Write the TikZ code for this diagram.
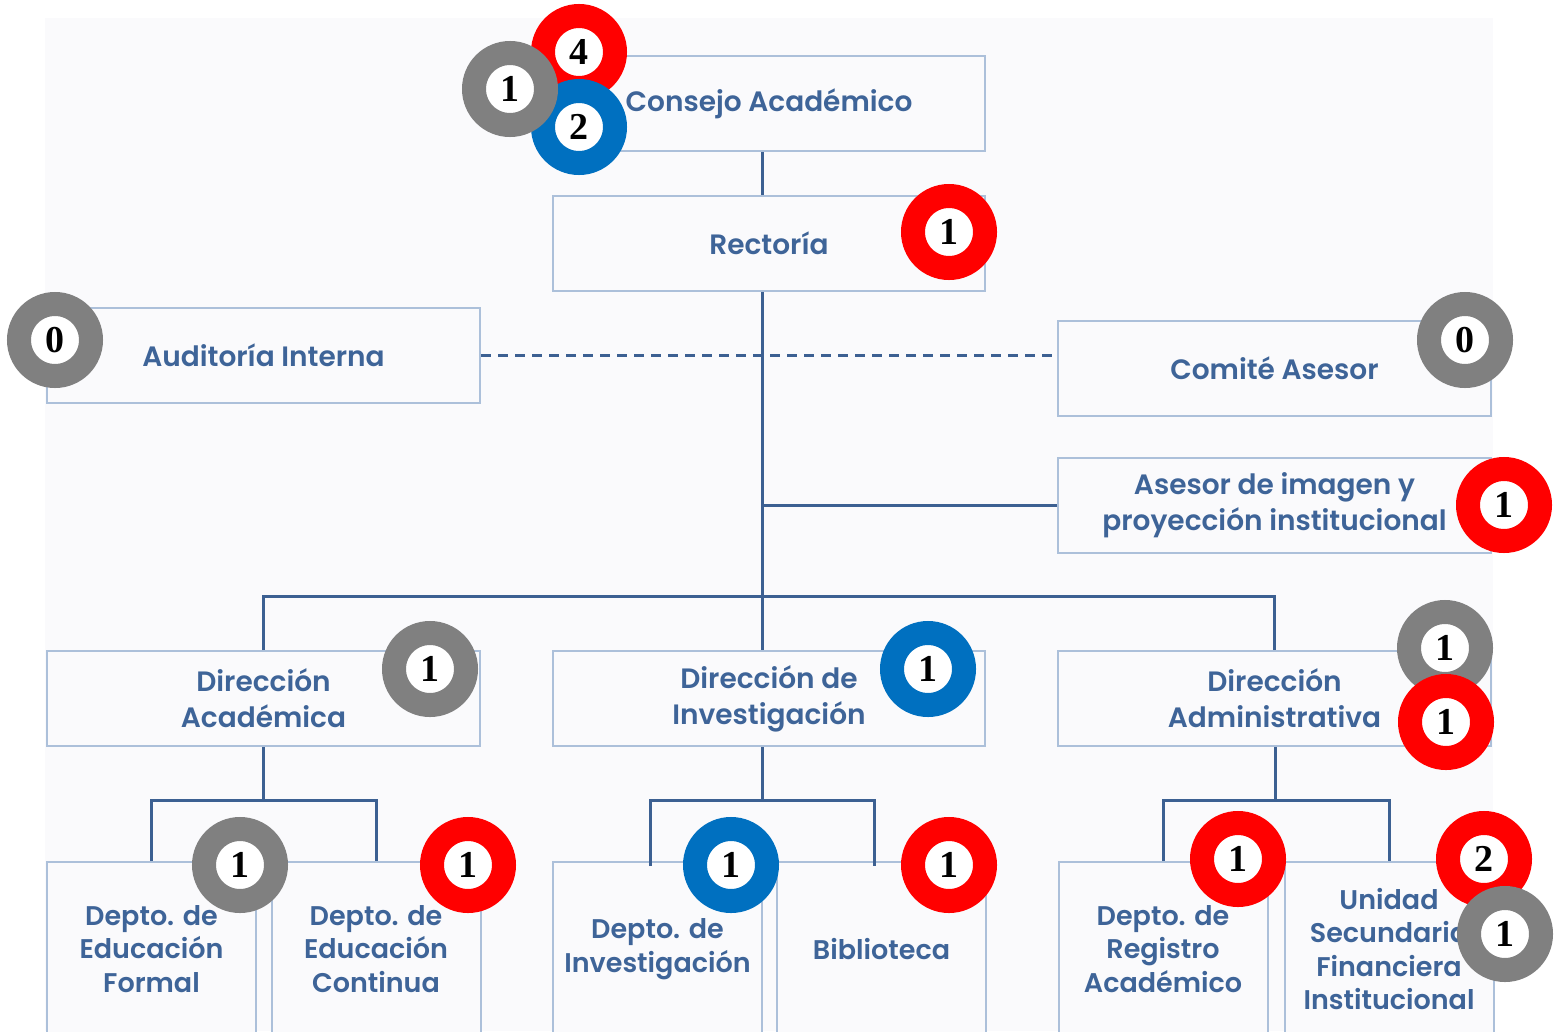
\documentclass[tikz,border=0pt]{standalone}
\usepackage{fontspec}
\setmainfont{Poppins}[BoldFont={* SemiBold}]
\newfontfamily\digitfont{Liberation Serif}
\definecolor{txtc}{RGB}{62,100,152}
\definecolor{linec}{RGB}{60,96,146}
\definecolor{boxc}{RGB}{172,192,218}
\definecolor{bgc}{RGB}{250,250,252}
\definecolor{bred}{RGB}{255,0,0}
\definecolor{bblue}{RGB}{0,112,192}
\definecolor{bgray}{RGB}{128,128,128}
\tikzset{
  orgbox/.style={draw=boxc, line width=2pt, fill=bgc, minimum width=432pt, minimum height=95pt,
    inner sep=0pt, align=center, text=txtc, font=\fontsize{28}{36}\selectfont\bfseries},
  smallbox/.style={orgbox, minimum width=209pt, minimum height=174pt, font=\fontsize{27}{33.5}\selectfont\bfseries},
  conn/.style={draw=linec, line width=3pt},
  badge/.style={circle, draw=#1, fill=white, line width=24pt, minimum size=72pt, inner sep=0pt,
    text depth=0pt, font=\fontsize{38}{38}\selectfont\digitfont\bfseries}
}
\begin{document}
\begin{tikzpicture}[x=1pt,y=-1pt]
\useasboundingbox (0,0) rectangle (1561,1031);
\clip (0,0) rectangle (1561,1031);
\fill[white] (0,0) rectangle (1561,1031);
\fill[bgc] (45,18) rectangle (1493,1031);

% boxes
\node[orgbox] (consejo) at (769,103.5) {Consejo Académico};
\node[orgbox] (rectoria) at (769,243.5) {Rectoría};
\node[orgbox, minimum width=433pt] (auditoria) at (263.5,355.5) {Auditoría Interna};
\node[orgbox, minimum width=433pt] (comite) at (1274.5,368.5) {Comité Asesor};
\node[orgbox, minimum width=433pt] (asesor) at (1274.5,505.5) {Asesor de imagen y\\proyección institucional};
\node[orgbox, minimum width=433pt] (dacad) at (263.5,698.5) {Dirección\\Académica};
\node[orgbox] (dinv) at (769,698.5) {Dirección de\\Investigación};
\node[orgbox, minimum width=433pt] (dadm) at (1274.5,698.5) {Dirección\\Administrativa};

\node[smallbox] (ef) at (151.5,949) {Depto. de\\Educación\\Formal};
\node[smallbox] (ec) at (376,949) {Depto. de\\Educación\\Continua};
\node[smallbox] (di) at (657.5,949) {Depto. de\\Investigación};
\node[smallbox] (bib) at (881.5,949) {Biblioteca};
\node[smallbox] (reg) at (1163,949) {Depto. de\\Registro\\Académico};
\node[smallbox] (usf) at (1389,949) {Unidad\\Secundaria\\Financiera\\Institucional};

% connector coordinates
\coordinate (spine) at (762,596);
\coordinate (ja) at (263.5,800);
\coordinate (jm) at (762,800);
\coordinate (jr) at (1275,800);
\coordinate (dil) at (650,866);
\coordinate (bibl) at (874,866);

% connectors
\draw[conn] (consejo.south -| spine) -- (rectoria.north -| spine);
\draw[conn] (rectoria.south -| spine) -- (spine);
\draw[conn] (asesor.west) -- (asesor.west -| spine);
\draw[conn] (dacad.north) |- (spine) -| (dadm.north);
\draw[conn] (spine) -- (dinv.north -| spine);
\draw[conn, dashed, dash pattern=on 10pt off 7pt] (auditoria.east) -- (auditoria.east -| comite.west);

\draw[conn] (dacad.south) -- (ja);
\draw[conn] (ef.north) |- (ja) -| (ec.north);
\draw[conn] (dinv.south -| jm) -- (jm);
\draw[conn] (dil) |- (jm) -| (bibl);
\draw[conn] (dadm.south -| jr) -- (jr);
\draw[conn] (reg.north) |- (jr) -| (usf.north);

% badges
\node[badge=bred] (b1) at (579,52) {4};
\node[badge=bblue] (b2) at (579,127) {2};
\node[badge=bgray] (b3) at (510,89) {1};
\node[badge=bred] (b4) at (949,232) {1};
\node[badge=bgray] (b5) at (55,340) {0};
\node[badge=bgray] (b6) at (1465,340) {0};
\node[badge=bred] (b7) at (1504,505) {1};
\node[badge=bgray] (b8) at (430,669) {1};
\node[badge=bblue] (b9) at (928,669) {1};
\node[badge=bgray] (b10) at (1445,648) {1};
\node[badge=bred] (b11) at (1446,722) {1};
\node[badge=bgray] (b12) at (240,865) {1};
\node[badge=bred] (b13) at (468,865) {1};
\node[badge=bblue] (b14) at (731,865) {1};
\node[badge=bred] (b15) at (949,865) {1};
\node[badge=bred] (b16) at (1238,859) {1};
\node[badge=bred] (b17) at (1484,859) {2};
\node[badge=bgray] (b18) at (1505,934) {1};
\end{tikzpicture}
\end{document}
